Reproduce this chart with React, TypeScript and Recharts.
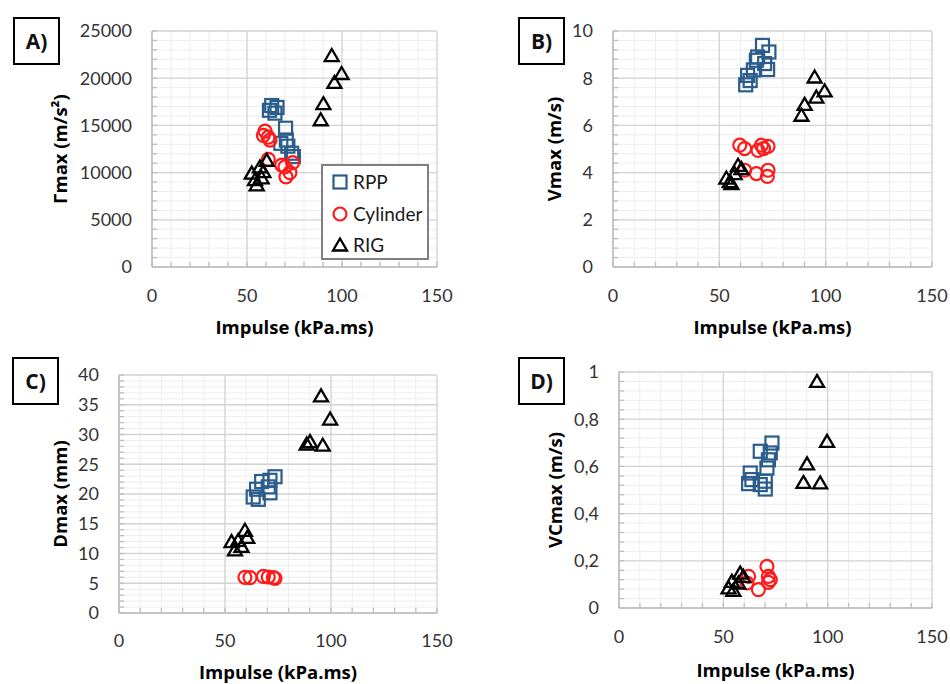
import React from 'react';
import { ScatterChart, Scatter, XAxis, YAxis, CartesianGrid, Legend, Label } from 'recharts';

const FONT = 'Lato, "Noto Sans", sans-serif';
const TITLE_FONT = '"Open Sans", "Noto Sans", sans-serif';

// ---------- data ----------
const seriesNames = ['RPP', 'Cylinder', 'RIG'];
const impulseLabels = [0, 50, 100, 150];

const aRpp = [
  { x: 63, y: 17100 }, { x: 65.8, y: 16900 }, { x: 61.8, y: 16600 }, { x: 64.7, y: 16300 },
  { x: 70.3, y: 14700 }, { x: 70.7, y: 13450 }, { x: 67.8, y: 13100 }, { x: 71.5, y: 12800 },
  { x: 73.5, y: 12050 }, { x: 74.4, y: 11700 },
];
const aCylinder = [
  { x: 59.5, y: 14400 }, { x: 58.6, y: 13950 }, { x: 61.2, y: 13750 }, { x: 62.1, y: 13450 },
  { x: 61.2, y: 11400 }, { x: 68.3, y: 10800 }, { x: 70, y: 10600 }, { x: 74, y: 11050 },
  { x: 72.6, y: 10000 }, { x: 70.5, y: 9550 },
];
const aRig = [
  { x: 94.6, y: 22400 }, { x: 99.8, y: 20500 }, { x: 96, y: 19550 }, { x: 90.2, y: 17300 },
  { x: 88.8, y: 15600 }, { x: 52.5, y: 9950 }, { x: 55.1, y: 8700 }, { x: 57.7, y: 9450 },
  { x: 56.8, y: 10600 }, { x: 60.4, y: 11300 }, { x: 54.2, y: 9250 }, { x: 58.6, y: 10100 },
];

const bRpp = [
  { x: 70.3, y: 9.39 }, { x: 73.3, y: 9.11 }, { x: 68, y: 8.9 }, { x: 67.4, y: 8.76 },
  { x: 71.3, y: 8.62 }, { x: 72.7, y: 8.37 }, { x: 66, y: 8.35 }, { x: 63.3, y: 8.12 },
  { x: 62.4, y: 7.72 }, { x: 64.5, y: 7.9 },
];
const bCylinder = [
  { x: 59.6, y: 5.16 }, { x: 61.9, y: 5.02 }, { x: 69.8, y: 5.16 }, { x: 68.2, y: 4.94 },
  { x: 70.8, y: 5.02 }, { x: 72.9, y: 5.11 }, { x: 61.9, y: 4.1 }, { x: 67.4, y: 3.96 },
  { x: 72.9, y: 4.1 }, { x: 72.6, y: 3.84 },
];
const bRig = [
  { x: 94.8, y: 8.05 }, { x: 99.5, y: 7.46 }, { x: 95.6, y: 7.2 }, { x: 90.1, y: 6.89 },
  { x: 88.6, y: 6.43 }, { x: 53.3, y: 3.77 }, { x: 55.7, y: 3.53 }, { x: 57.2, y: 3.96 },
  { x: 58.8, y: 4.31 }, { x: 60.4, y: 4.17 }, { x: 54.9, y: 3.62 },
];

const cRpp = [
  { x: 73.6, y: 22.9 }, { x: 71.2, y: 22.3 }, { x: 67.3, y: 22.1 }, { x: 70.4, y: 21.2 },
  { x: 64.9, y: 20.8 }, { x: 71.2, y: 20.2 }, { x: 63.3, y: 19.5 }, { x: 65.7, y: 19.1 },
];
const cCylinder = [
  { x: 59.4, y: 6.0 }, { x: 61.8, y: 5.95 }, { x: 68.1, y: 6.15 }, { x: 70.4, y: 6.05 },
  { x: 72.8, y: 5.95 }, { x: 73.6, y: 5.8 },
];
const cRig = [
  { x: 95.3, y: 36.5 }, { x: 99.6, y: 32.6 }, { x: 90.1, y: 28.8 }, { x: 88.5, y: 28.4 },
  { x: 96.1, y: 28.2 }, { x: 53.1, y: 12.0 }, { x: 54.7, y: 10.6 }, { x: 59.4, y: 13.9 },
  { x: 60.5, y: 12.7 }, { x: 57.8, y: 11.2 }, { x: 56.2, y: 12.2 },
];

const dRpp = [
  { x: 73.3, y: 0.699 }, { x: 67.7, y: 0.664 }, { x: 72.5, y: 0.657 }, { x: 71.6, y: 0.628 },
  { x: 70.9, y: 0.593 }, { x: 62.9, y: 0.572 }, { x: 63.7, y: 0.544 }, { x: 62.1, y: 0.527 },
  { x: 70.1, y: 0.537 }, { x: 67.7, y: 0.523 }, { x: 70.1, y: 0.504 },
];
const dCylinder = [
  { x: 70.9, y: 0.176 }, { x: 71.6, y: 0.134 }, { x: 72.5, y: 0.12 }, { x: 62.1, y: 0.134 },
  { x: 61.3, y: 0.106 }, { x: 66.8, y: 0.078 }, { x: 71.6, y: 0.109 },
];
const dRig = [
  { x: 94.9, y: 0.96 }, { x: 99.7, y: 0.706 }, { x: 90.1, y: 0.611 }, { x: 88.4, y: 0.532 },
  { x: 96.4, y: 0.53 }, { x: 52.5, y: 0.085 }, { x: 54.8, y: 0.075 }, { x: 54.1, y: 0.113 },
  { x: 58.1, y: 0.148 }, { x: 59.6, y: 0.134 }, { x: 57.2, y: 0.106 },
];

const aYLabels = [0, 5000, 10000, 15000, 20000, 25000];
const bYLabels = [0, 2, 4, 6, 8, 10];
const cYLabels = [0, 5, 10, 15, 20, 25, 30, 35, 40];
const dYLabels = [0, 0.2, 0.4, 0.6, 0.8, 1];

// ---------- helpers ----------
const steps = (max: number, step: number) => {
  const out: number[] = [];
  const n = Math.round(max / step);
  for (let i = 0; i <= n; i++) out.push(Number((i * step).toFixed(4)));
  return out;
};
const isIn = (v: number, arr: number[]) => arr.some((a) => Math.abs(a - v) < 1e-9);

const BLUE = '#2b5d8c';
const RED = '#ff1a1a';
const BLACK = '#000000';

const SquareShape = (p: any) => (
  <rect x={p.cx - 6.5} y={p.cy - 6.5} width={13} height={13} fill="none" stroke={BLUE} strokeWidth={2.2} />
);
const CircleShape = (p: any) => (
  <circle cx={p.cx} cy={p.cy} r={6.5} fill="none" stroke={RED} strokeWidth={2.2} />
);
const TriangleShape = (p: any) => (
  <polygon
    points={`${p.cx},${p.cy - 6.5} ${p.cx + 7},${p.cy + 5.5} ${p.cx - 7},${p.cy + 5.5}`}
    fill="none"
    stroke={BLACK}
    strokeWidth={2.3}
    strokeLinejoin="miter"
  />
);
const shapes = [SquareShape, CircleShape, TriangleShape];

const LegendBox = () => (
  <div
    style={{
      width: 108,
      height: 96,
      boxSizing: 'border-box',
      border: '2px solid #7f7f7f',
      background: '#fff',
      position: 'relative',
      fontFamily: FONT,
    }}
  >
    {seriesNames.map((name, i) => {
      const Shape = shapes[i];
      return (
        <div key={name} style={{ position: 'absolute', left: 7, top: 4 + i * 31.5, height: 24, display: 'flex', alignItems: 'center' }}>
          <svg width={20} height={24} style={{ display: 'block' }}>
            <Shape cx={10} cy={12} />
          </svg>
          <span style={{ marginLeft: 3, fontSize: 19, color: '#1a1a1a', lineHeight: '24px' }}>{name}</span>
        </div>
      );
    })}
  </div>
);

type PanelCfg = {
  tag: string;
  left: number;
  top: number;
  width: number;
  height: number;
  margin: { top: number; right: number; left: number; bottom: number };
  yWidth: number;
  xHeight: number;
  xTitle: string;
  xTitleOffset: number;
  xTickMargin: number;
  yTitle: string;
  yMax: number;
  yMinorStep: number;
  yLabels: number[];
  decimalComma?: boolean;
  data: { x: number; y: number }[][];
  legend?: boolean;
  box: { left: number; top: number };
};

const panels: PanelCfg[] = [
  {
    tag: 'A)', left: 0, top: 0, width: 475, height: 342,
    margin: { top: 31, right: 38, left: 60, bottom: 0 }, yWidth: 92, xHeight: 75,
    xTitle: 'Impulse  (kPa.ms)', xTitleOffset: 8, xTickMargin: 27,
    yTitle: 'Γmax (m/s²)', yMax: 25000, yMinorStep: 1000, yLabels: aYLabels,
    data: [aRpp, aCylinder, aRig], legend: true, box: { left: 13, top: 17 },
  },
  {
    tag: 'B)', left: 475, top: 0, width: 475, height: 342,
    margin: { top: 31, right: 18, left: 79, bottom: 0 }, yWidth: 59, xHeight: 75,
    xTitle: 'Impulse  (kPa.ms)', xTitleOffset: 8, xTickMargin: 27,
    yTitle: 'Vmax (m/s)', yMax: 10, yMinorStep: 0.4, yLabels: bYLabels,
    data: [bRpp, bCylinder, bRig], box: { left: 43, top: 17 },
  },
  {
    tag: 'C)', left: 0, top: 340, width: 475, height: 344,
    margin: { top: 35, right: 38, left: 60, bottom: 0 }, yWidth: 59, xHeight: 71,
    xTitle: 'Impulse (kPa.ms)', xTitleOffset: 5, xTickMargin: 26,
    yTitle: 'Dmax (mm)', yMax: 40, yMinorStep: 1, yLabels: cYLabels,
    data: [cRpp, cCylinder, cRig], box: { left: 12, top: 17 },
  },
  {
    tag: 'D)', left: 475, top: 340, width: 475, height: 344,
    margin: { top: 32, right: 18, left: 80, bottom: 0 }, yWidth: 64, xHeight: 76,
    xTitle: 'Impulse (kPa.ms)', xTitleOffset: 7, xTickMargin: 27,
    yTitle: 'VCmax (m/s)', yMax: 1, yMinorStep: 0.04, yLabels: dYLabels, decimalComma: true,
    data: [dRpp, dCylinder, dRig], box: { left: 43, top: 17 },
  },
];

const xMinor = steps(150, 10);

const tickStyle = { fill: '#333333', fontSize: 18, fontFamily: FONT };
const titleStyle = { fill: '#000000', fontSize: 18.5, fontWeight: 700, fontFamily: TITLE_FONT, textAnchor: 'middle' as const };

const Panel = ({ cfg }: { cfg: PanelCfg }) => {
  const yMinor = steps(cfg.yMax, cfg.yMinorStep);
  const fmtY = (v: number) => {
    if (!isIn(v, cfg.yLabels)) return '';
    const s = String(Number(v.toFixed(4)));
    return cfg.decimalComma ? s.replace('.', ',') : s;
  };
  const fmtX = (v: number) => (isIn(v, impulseLabels) ? String(v) : '');
  return (
    <div style={{ position: 'absolute', left: cfg.left, top: cfg.top, width: cfg.width, height: cfg.height }}>
      <ScatterChart width={cfg.width} height={cfg.height} margin={cfg.margin}>
        <CartesianGrid stroke="#ededed" strokeWidth={1} />
        <CartesianGrid stroke="#d4d4d4" strokeWidth={1.3} horizontalValues={cfg.yLabels} verticalValues={impulseLabels} />
        <XAxis
          type="number"
          dataKey="x"
          domain={[0, 150]}
          ticks={xMinor}
          interval={0}
          tickFormatter={fmtX}
          tickSize={-5}
          tickMargin={cfg.xTickMargin}
          height={cfg.xHeight}
          stroke="#bdbdbd"
          axisLine={{ stroke: '#bdbdbd', strokeWidth: 1.5 }}
          tickLine={{ stroke: '#bdbdbd', strokeWidth: 1.3 }}
          tick={tickStyle}
          allowDataOverflow
        >
          <Label value={cfg.xTitle} position="insideBottom" offset={cfg.xTitleOffset} style={titleStyle} />
        </XAxis>
        <YAxis
          type="number"
          dataKey="y"
          domain={[0, cfg.yMax]}
          ticks={yMinor}
          interval={0}
          tickFormatter={fmtY}
          tickSize={-5}
          tickMargin={25}
          width={cfg.yWidth}
          stroke="#bdbdbd"
          axisLine={{ stroke: '#bdbdbd', strokeWidth: 1.5 }}
          tickLine={{ stroke: '#bdbdbd', strokeWidth: 1.3 }}
          tick={tickStyle}
          allowDataOverflow
        >
          <Label value={cfg.yTitle} angle={-90} position="insideLeft" offset={0} style={titleStyle} />
        </YAxis>
        {cfg.data.map((d, i) => (
          <Scatter key={seriesNames[i]} name={seriesNames[i]} data={d} shape={shapes[i]} isAnimationActive={false} />
        ))}
        {cfg.legend && (
          <Legend
            layout="vertical"
            align="center"
            verticalAlign="middle"
            content={() => <LegendBox />}
            wrapperStyle={{ left: 321, top: 164, width: 108, height: 96 }}
          />
        )}
      </ScatterChart>
      <div
        style={{
          position: 'absolute',
          left: cfg.box.left,
          top: cfg.box.top,
          width: 47,
          height: 48,
          boxSizing: 'border-box',
          border: '2px solid #000',
          display: 'flex',
          alignItems: 'center',
          justifyContent: 'center',
          fontFamily: TITLE_FONT,
          fontWeight: 700,
          fontSize: 21,
          color: '#111',
          background: '#fff',
        }}
      >
        {cfg.tag}
      </div>
    </div>
  );
};

export default function App() {
  return (
    <div style={{ position: 'absolute', left: 0, top: 0, width: 950, height: 684, background: '#fff', overflow: 'hidden' }}>
      {panels.map((p) => (
        <Panel key={p.tag} cfg={p} />
      ))}
    </div>
  );
}
